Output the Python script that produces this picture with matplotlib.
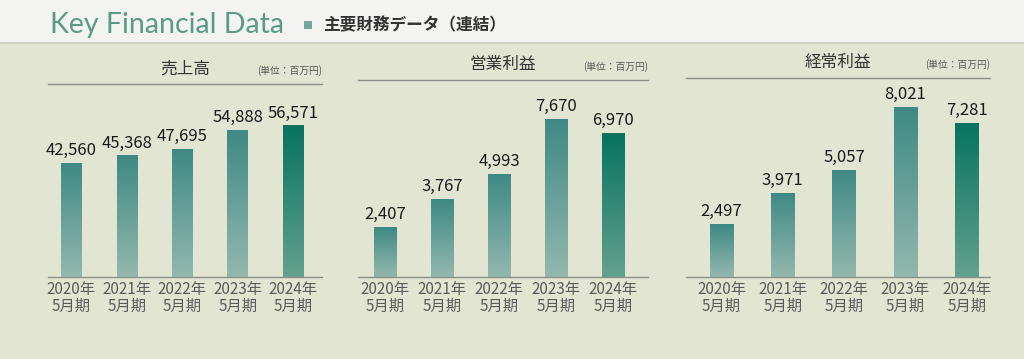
import matplotlib
matplotlib.use("Agg")
import matplotlib.pyplot as plt
import numpy as np
from matplotlib.colors import LinearSegmentedColormap
from matplotlib.patches import Rectangle

plt.rcParams['font.family'] = ['Noto Sans CJK JP', 'DejaVu Sans']

# ---- data ----
periods = ["2020年\n5月期", "2021年\n5月期", "2022年\n5月期", "2023年\n5月期", "2024年\n5月期"]
net_sales = [42560, 45368, 47695, 54888, 56571]
operating_income = [2407, 3767, 4993, 7670, 6970]
ordinary_income = [2497, 3971, 5057, 8021, 7281]
panel_titles = ["売上高", "営業利益", "経常利益"]
unit_label = "(単位：百万円)"
header_en = "Key Financial Data"
header_jp = "主要財務データ（連結）"

W, H = 1024, 359
fig = plt.figure(figsize=(W / 100, H / 100), dpi=100)
bg = "#e3e5d3"
fig.patch.set_facecolor(bg)

# header band
fig.patches.append(Rectangle((0, 1 - 43 / H), 1, 43 / H, transform=fig.transFigure,
                             facecolor="#f3f3f1", edgecolor="none", zorder=0))
fig.lines.append(plt.Line2D([0, 1], [1 - 43 / H, 1 - 43 / H], transform=fig.transFigure,
                            color="#c9cbc0", lw=1.2))
fig.text(50 / W, 1 - 25 / H, header_en, fontsize=20.5, color="#5b9a89",
         family=['Lato', 'DejaVu Sans'], va="center", ha="left")
fig.patches.append(Rectangle((304 / W, 1 - 29 / H), 8 / W, 8 / H, transform=fig.transFigure,
                             facecolor="#6fa898", edgecolor="none"))
fig.text(323 / W, 1 - 25 / H, header_jp, fontsize=12, color="#333333",
         fontweight="bold", va="center", ha="left")

cm_norm = LinearSegmentedColormap.from_list("n", ["#93b8ae", "#3e8985"])
cm_last = LinearSegmentedColormap.from_list("l", ["#63a18e", "#07735f"])

# (values, left px, right px, top px, ymax, xlim, bar width)
panels = [
    (net_sales, 48, 322, 84, 72000, (-0.42, 4.52), 0.37),
    (operating_income, 358, 648, 80, 9550, (-0.48, 4.62), 0.39),
    (ordinary_income, 686, 990, 78, 9400, (-0.58, 4.38), 0.38),
]
base_px = 277

for i, (vals, lpx, rpx, tpx, ymax, xl, bw) in enumerate(panels):
    ax = fig.add_axes([lpx / W, 1 - base_px / H, (rpx - lpx) / W, (base_px - tpx) / H])
    ax.set_facecolor("none")
    x = np.arange(len(vals))
    bars = ax.bar(x, vals, width=bw, color="none", edgecolor="none")
    grad = np.linspace(0, 1, 256).reshape(-1, 1)
    for j, b in enumerate(bars):
        cmap = cm_last if j == len(bars) - 1 else cm_norm
        ext = [b.get_x(), b.get_x() + b.get_width(), 0, b.get_height()]
        im = ax.imshow(grad, cmap=cmap, extent=ext, origin="lower", aspect="auto", zorder=2)
        im.set_clip_path(b)
        ax.text(b.get_x() + b.get_width() / 2, b.get_height() + ymax * 0.02,
                f"{vals[j]:,}", ha="center", va="bottom", fontsize=12, color="#1a1a1a")
    ax.set_xlim(*xl)
    ax.set_ylim(0, ymax)
    for s in ["left", "right"]:
        ax.spines[s].set_visible(False)
    ax.spines["top"].set_color("#8a8f88")
    ax.spines["top"].set_linewidth(1.0)
    ax.spines["bottom"].set_color("#8a8f88")
    ax.spines["bottom"].set_linewidth(1.0)
    ax.set_yticks([])
    ax.set_xticks(x)
    ax.set_xticklabels(periods, fontsize=11, color="#5a5a5a", linespacing=0.95)
    ax.tick_params(axis="x", length=0, pad=3)
    ax.text(0.5, 1.035, panel_titles[i], transform=ax.transAxes, ha="center", va="bottom",
            fontsize=12, color="#333333")
    ax.text(1.0, 1.04, unit_label, transform=ax.transAxes, ha="right", va="bottom",
            fontsize=7, color="#555555")

fig.savefig("out.png", dpi=100, facecolor=fig.get_facecolor())
